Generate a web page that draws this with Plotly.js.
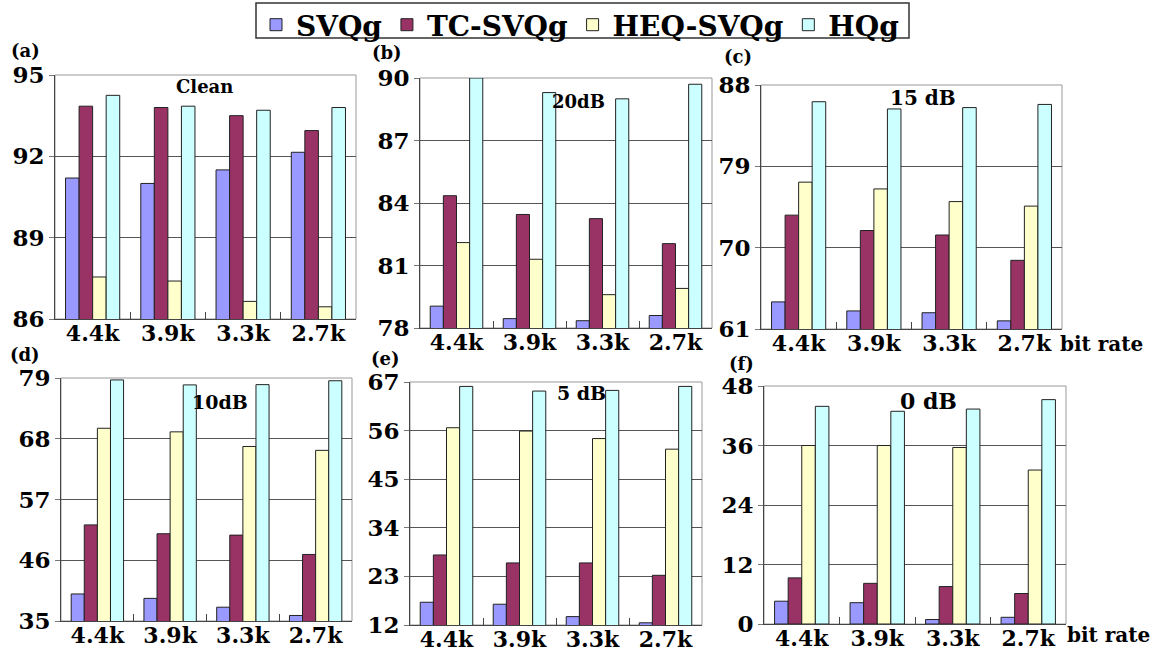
<!DOCTYPE html>
<html>
<head>
<meta charset="utf-8">
<script src="https://cdn.plot.ly/plotly-3.0.1.min.js"></script>
<style>
  html, body { margin: 0; padding: 0; background: #ffffff; }
  #chart { width: 1162px; height: 651px; }
</style>
</head>
<body>
<div id="chart"></div>
<script>
// Recognition scores (%) per bit rate, one row per method:
// [SVQg, TC-SVQg, HEQ-SVQg, HQg]
const bitRates = ['4.4k', '3.9k', '3.3k', '2.7k'];
const methods = ['SVQg', 'TC-SVQg', 'HEQ-SVQg', 'HQg'];

const cleanScores = [
  [91.2, 91.0, 91.5, 92.15],
  [93.85, 93.8, 93.5, 92.95],
  [87.55, 87.4, 86.65, 86.45],
  [94.25, 93.85, 93.7, 93.8]
];
const snr20Scores = [
  [79.05, 78.45, 78.35, 78.6],
  [84.35, 83.45, 83.25, 82.05],
  [82.1, 81.3, 79.6, 79.9],
  [90.0, 89.3, 89.0, 89.7]
];
const snr15Scores = [
  [64.0, 63.0, 62.8, 61.9],
  [73.6, 71.9, 71.4, 68.6],
  [77.25, 76.5, 75.1, 74.6],
  [86.15, 85.35, 85.5, 85.85]
];
const snr10Scores = [
  [39.9, 39.1, 37.5, 36.0],
  [52.4, 50.8, 50.55, 47.05],
  [69.9, 69.25, 66.6, 65.9],
  [78.65, 77.75, 77.8, 78.5]
];
const snr5Scores = [
  [17.15, 16.7, 13.9, 12.5],
  [27.85, 26.05, 26.05, 23.25],
  [56.65, 55.9, 54.2, 51.8],
  [66.0, 64.95, 65.1, 66.0]
];
const snr0Scores = [
  [4.6, 4.3, 0.9, 1.35],
  [9.3, 8.2, 7.55, 6.15],
  [36.0, 36.0, 35.6, 31.05],
  [43.9, 42.9, 43.35, 45.25]
];

// Y-axis tick values for each panel
const cleanTicks = [86, 89, 92, 95];
const snr20Ticks = [78, 81, 84, 87, 90];
const snr15Ticks = [61, 70, 79, 88];
const snr10Ticks = [35, 46, 57, 68, 79];
const snr5Ticks = [12, 23, 34, 45, 56, 67];
const snr0Ticks = [0, 12, 24, 36, 48];

const panelTags = ['(a)', '(b)', '(c)', '(d)', '(e)', '(f)'];
const conditions = ['Clean', '20dB', '15 dB', '10dB', '5 dB', '0 dB'];
const axisLabel = 'bit rate';

// ---- styling / placement ----
const W = 1162, H = 651;
const methodColors = ['#9999FF', '#993366', '#FFFFCC', '#CCFFFF'];
const serif = 'DejaVu Serif, Liberation Serif, serif';

const panels = [
  { scores: cleanScores, ticks: cleanTicks, box: [55, 356, 75, 319],
    tagPos: [25, 51], condPos: [204, 87], condSize: 18, bitRate: false },
  { scores: snr20Scores, ticks: snr20Ticks, box: [420, 712, 78, 328],
    tagPos: [387, 52], condPos: [578, 102], condSize: 18, bitRate: false },
  { scores: snr15Scores, ticks: snr15Ticks, box: [761, 1062, 85, 329],
    tagPos: [738, 57], condPos: [923, 98], condSize: 20, bitRate: true, bitPos: [1101, 344] },
  { scores: snr10Scores, ticks: snr10Ticks, box: [61, 352, 378, 621],
    tagPos: [25, 354], condPos: [220, 402], condSize: 19, bitRate: false },
  { scores: snr5Scores, ticks: snr5Ticks, box: [410, 702, 382, 625],
    tagPos: [385, 358], condPos: [581, 393], condSize: 19, bitRate: false },
  { scores: snr0Scores, ticks: snr0Ticks, box: [764, 1066, 386, 624],
    tagPos: [741, 363], condPos: [928, 401], condSize: 22, bitRate: true, bitPos: [1108, 635] }
];

const traces = [];
const layout = {
  width: W, height: H, autosize: false,
  margin: { l: 0, r: 0, t: 0, b: 0, autoexpand: false },
  paper_bgcolor: '#ffffff', plot_bgcolor: '#ffffff',
  barmode: 'group', bargap: 0.28, bargroupgap: 0,
  showlegend: true,
  legend: {
    orientation: 'h', x: 256 / W, y: 1, xanchor: 'left', yanchor: 'top',
    borderwidth: 0, bgcolor: 'rgba(255,255,255,0)',
    font: { family: serif, size: 28, color: '#000000', weight: 'bold' },
    traceorder: 'normal'
  },
  annotations: [],
  // frame around the legend
  shapes: [{
    type: 'rect', xref: 'paper', yref: 'paper',
    x0: 256 / W, x1: 909 / W, y0: 1 - 38 / H, y1: 1 - 3 / H,
    line: { color: '#333333', width: 1.5 }, fillcolor: 'rgba(0,0,0,0)', layer: 'below'
  }]
};

panels.forEach((p, i) => {
  const n = i + 1;
  const xa = 'x' + (n === 1 ? '' : n);
  const ya = 'y' + (n === 1 ? '' : n);
  const xKey = 'xaxis' + (n === 1 ? '' : n);
  const yKey = 'yaxis' + (n === 1 ? '' : n);
  const [x0, x1, y0, y1] = p.box;

  methods.forEach((m, k) => {
    traces.push({
      type: 'bar', name: m, x: bitRates, y: p.scores[k],
      xaxis: xa, yaxis: ya,
      marker: { color: methodColors[k], line: { color: '#222222', width: 1 } },
      legendgroup: m, showlegend: i === 0, hoverinfo: 'x+y+name'
    });
  });

  layout[xKey] = {
    domain: [x0 / W, x1 / W], anchor: ya,
    type: 'category', categoryorder: 'array', categoryarray: bitRates,
    showline: true, linecolor: '#444444', linewidth: 1,
    ticks: 'inside', tickson: 'boundaries', ticklen: 7, tickcolor: '#444444',
    showgrid: false, zeroline: false, fixedrange: true,
    tickfont: { family: serif, size: 22, color: '#000000', weight: 'bold' },
    ticklabelstandoff: -5
  };
  layout[yKey] = {
    domain: [1 - y1 / H, 1 - y0 / H], anchor: xa,
    range: [p.ticks[0], p.ticks[p.ticks.length - 1]],
    tickvals: p.ticks,
    showline: true, linecolor: '#444444', linewidth: 1,
    ticks: 'outside', ticklen: 5, tickcolor: '#777777',
    showgrid: true, gridcolor: '#555555', gridwidth: 1,
    zeroline: false, fixedrange: true,
    tickfont: { family: serif, size: 23, color: '#000000', weight: 'bold' }
  };

  // light frame on the top and right sides of the plot area
  layout.shapes.push({
    type: 'rect', xref: xa + ' domain', yref: ya + ' domain',
    x0: 0, x1: 1, y0: 0, y1: 1, layer: 'below',
    line: { color: '#999999', width: 1 }, fillcolor: 'rgba(0,0,0,0)'
  });

  layout.annotations.push({
    text: '<b>' + panelTags[i] + '</b>', xref: 'paper', yref: 'paper',
    x: p.tagPos[0] / W, y: 1 - p.tagPos[1] / H, xanchor: 'center', yanchor: 'middle',
    showarrow: false, font: { family: serif, size: 18, color: '#000000' }
  });
  layout.annotations.push({
    text: '<b>' + conditions[i] + '</b>', xref: 'paper', yref: 'paper',
    x: p.condPos[0] / W, y: 1 - p.condPos[1] / H, xanchor: 'center', yanchor: 'middle',
    showarrow: false,
    font: { family: serif, size: p.condSize, color: '#000000' }
  });
  if (p.bitRate) {
    layout.annotations.push({
      text: '<b>' + axisLabel + '</b>', xref: 'paper', yref: 'paper',
      x: p.bitPos[0] / W, y: 1 - p.bitPos[1] / H, xanchor: 'center', yanchor: 'middle',
      showarrow: false, font: { family: serif, size: 20, color: '#000000' }
    });
  }
});

Plotly.newPlot('chart', traces, layout, { displayModeBar: false, staticPlot: true });
</script>
</body>
</html>
